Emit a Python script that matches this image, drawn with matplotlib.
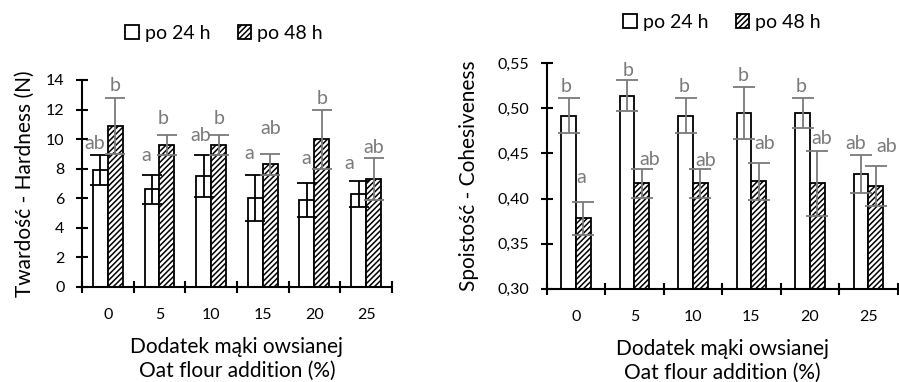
import numpy as np
import matplotlib
matplotlib.use("Agg")
from matplotlib import pyplot as plt
from matplotlib.patches import Patch
from matplotlib.ticker import FuncFormatter

plt.rcParams["font.family"] = ["Lato", "DejaVu Sans"]
plt.rcParams["hatch.linewidth"] = 1.1
plt.rcParams["hatch.color"] = "black"

# Data
categories = ["0", "5", "10", "15", "20", "25"]
series_names = ["po 24 h", "po 48 h"]

hard_24 = [7.9, 6.6, 7.5, 6.0, 5.9, 6.3]
hard_24_err = [1.0, 1.0, 1.4, 1.55, 1.15, 0.9]
hard_48 = [10.9, 9.6, 9.6, 8.3, 10.0, 7.3]
hard_48_err = [1.9, 0.7, 0.7, 0.7, 2.0, 1.4]
hard_24_lbl = ["ab", "a", "ab", "a", "a", "a"]
hard_48_lbl = ["b", "b", "b", "ab", "b", "ab"]

coh_24 = [0.492, 0.514, 0.492, 0.495, 0.495, 0.427]
coh_24_err = [0.019, 0.017, 0.019, 0.029, 0.017, 0.021]
coh_48 = [0.378, 0.417, 0.417, 0.419, 0.417, 0.414]
coh_48_err = [0.018, 0.016, 0.016, 0.021, 0.036, 0.022]
coh_24_lbl = ["b", "b", "b", "b", "b", "ab"]
coh_48_lbl = ["a", "ab", "ab", "ab", "ab", "ab"]

# letter placement nudges (pixels): dx from bar centre, dy above error bar top
hard_24_nudge = [(-6, 12), (-6, 19), (-3, 20), (-6, 22), (-1, 24), (-9, 17)]
hard_48_nudge = [(0, 12), (-4, 16), (0, 16), (0, 25), (0, 11), (0, 11)]
coh_24_nudge = [(-2, 12), (1, 10), (-1, 12), (-1, 11), (-1, 11), (-5, 12)]
coh_48_nudge = [(-2, 25), (8, 9), (6, 8), (6, 19), (5, 12), (11, 20)]

gray = "#7a7a7a"
xlabel = "Dodatek mąki owsianej\nOat flour addition (%)"
hatch = "//////"
PX = 72 / 100  # points per pixel

fig = plt.figure(figsize=(8.99, 3.82), dpi=100)
ax1 = fig.add_axes([0.0912, 0.2487, 0.3448, 0.5419])
ax2 = fig.add_axes([0.6081, 0.2442, 0.3904, 0.5900])


def letters(ax, xs, vals, errs, lbls, nudges):
    for xi, v, e, t, (dx, dy) in zip(xs, vals, errs, lbls, nudges):
        ax.annotate(t, (xi, v + e), xytext=(dx * PX, dy * PX), textcoords="offset points",
                    ha="center", va="center", color=gray, fontsize=14)


def draw(ax, v24, e24, v48, e48, w, ecol24, cap):
    x = np.arange(len(categories))
    ax.bar(x - w / 2, v24, w, color="white", edgecolor="black", lw=1.3)
    ax.bar(x + w / 2, v48, w, color="white", edgecolor="black", lw=1.3, hatch=hatch)
    ax.errorbar(x - w / 2, v24, yerr=e24, fmt="none", ecolor=ecol24,
                elinewidth=1.3, capsize=cap, capthick=1.3)
    ax.errorbar(x + w / 2, v48, yerr=e48, fmt="none", ecolor=gray,
                elinewidth=1.3, capsize=cap, capthick=1.3)

    ax.set_xlim(-0.5, len(categories) - 0.5)
    ax.set_xticks(np.arange(len(categories) + 1) - 0.5)
    ax.set_xticklabels([])
    ax.set_xticks(x, minor=True)
    ax.set_xticklabels(categories, minor=True)
    ax.tick_params(axis="x", which="major", direction="inout", length=9, width=1.5)
    ax.tick_params(axis="x", which="minor", length=0, pad=15, labelsize=11.5)
    ax.tick_params(axis="y", direction="inout", length=9, width=1.5, pad=8, labelsize=11.5)
    for s in ["top", "right"]:
        ax.spines[s].set_visible(False)
    for s in ["left", "bottom"]:
        ax.spines[s].set_linewidth(1.5)
    ax.set_xlabel(xlabel, fontsize=15, labelpad=11, linespacing=1.25)

    handles = [Patch(facecolor="white", edgecolor="black", lw=1.3),
               Patch(facecolor="white", edgecolor="black", lw=1.3, hatch=hatch)]
    return x, handles


w1 = 0.29
x, h = draw(ax1, hard_24, hard_24_err, hard_48, hard_48_err, w1, "black", 7)
letters(ax1, x - w1 / 2, hard_24, hard_24_err, hard_24_lbl, hard_24_nudge)
letters(ax1, x + w1 / 2, hard_48, hard_48_err, hard_48_lbl, hard_48_nudge)
ax1.set_ylim(0, 14)
ax1.set_yticks(np.arange(0, 15, 2))
ax1.set_ylabel("Twardość - Hardness (N)", fontsize=15, labelpad=8)
ax1.legend(h, series_names, loc="center", bbox_to_anchor=(0.458, 1.227), ncol=2,
           frameon=False, fontsize=14, handlelength=0.7, handleheight=0.7,
           handletextpad=0.3, columnspacing=1.4)

w2 = 0.25
x, h = draw(ax2, coh_24, coh_24_err, coh_48, coh_48_err, w2, gray, 8)
letters(ax2, x - w2 / 2, coh_24, coh_24_err, coh_24_lbl, coh_24_nudge)
letters(ax2, x + w2 / 2, coh_48, coh_48_err, coh_48_lbl, coh_48_nudge)
ax2.set_ylim(0.30, 0.55)
ax2.set_yticks(np.arange(0.30, 0.551, 0.05))
ax2.yaxis.set_major_formatter(FuncFormatter(lambda v, p: f"{v:.2f}".replace(".", ",")))
ax2.set_ylabel("Spoistość - Cohesiveness", fontsize=15, labelpad=13)
ax2.legend(h, series_names, loc="center", bbox_to_anchor=(0.4995, 1.183), ncol=2,
           frameon=False, fontsize=14, handlelength=0.7, handleheight=0.7,
           handletextpad=0.3, columnspacing=1.4)

fig.savefig("out.png", dpi=100)
